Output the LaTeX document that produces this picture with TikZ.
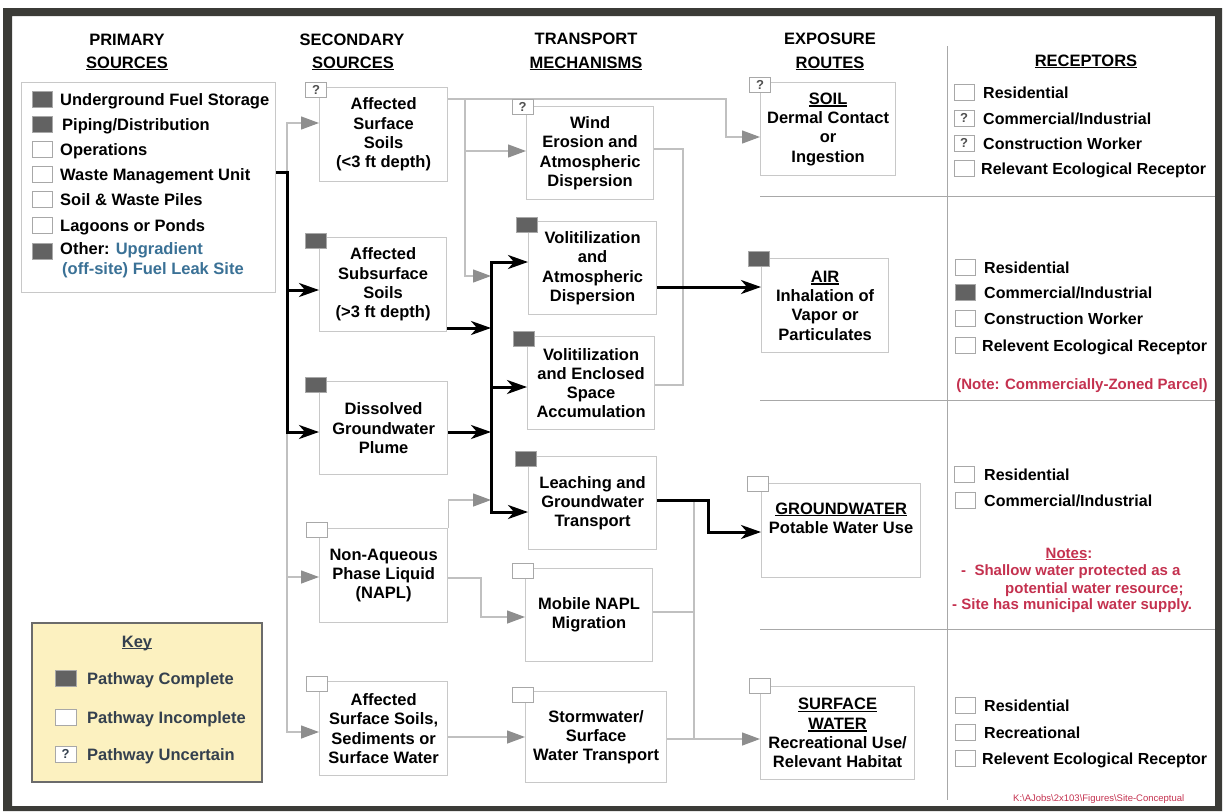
\documentclass[tikz,border=0pt]{standalone}
\usepackage{fontspec}
\setmainfont{Liberation Sans}
\usetikzlibrary{arrows.meta}
\definecolor{framec}{HTML}{3B3B37}
\definecolor{boxc}{HTML}{C8C8C8}
\definecolor{tagc}{HTML}{A8A8A8}
\definecolor{dfill}{HTML}{626262}
\definecolor{lgray}{HTML}{C0C0C0}
\definecolor{agray}{HTML}{8E8E8E}
\definecolor{sepc}{HTML}{A8A8A8}
\definecolor{bluec}{HTML}{3A7196}
\definecolor{redc}{HTML}{C4314F}
\definecolor{keyfill}{HTML}{FCF1C0}
\definecolor{keyborder}{HTML}{6B6B6B}
\definecolor{keytext}{HTML}{34404E}
\definecolor{qc}{HTML}{505050}
\newsavebox{\myulbox}
\newcommand\myul[1]{\sbox{\myulbox}{#1}\rlap{\rule[-2.4pt]{\wd\myulbox}{1.3pt}}\usebox{\myulbox}}
\begin{document}
\begin{tikzpicture}[x=1pt,y=-1pt,
  font=\bfseries\fontsize{16.5}{19.3}\selectfont,
  bx/.style={draw=boxc, line width=1.2pt, fill=white, align=center, inner sep=0pt, anchor=north west},
  tagf/.style={draw=tagc, line width=0.8pt, fill=dfill, minimum width=21pt, minimum height=15pt, inner sep=0pt},
  tage/.style={draw=tagc, line width=0.8pt, fill=white, minimum width=21pt, minimum height=15pt, inner sep=0pt},
  tagq/.style={tage, font=\bfseries\fontsize{13}{13}\selectfont, text=qc},
  sqf/.style={tagf, minimum width=20pt, minimum height=16pt},
  sqe/.style={tage, minimum width=20pt, minimum height=16pt},
  sqq/.style={tagq, minimum width=20pt, minimum height=16pt},
  lbl/.style={anchor=base west, inner sep=0pt},
  rlbl/.style={anchor=base west, inner sep=0pt, font=\bfseries\fontsize{16}{19}\selectfont},
  hd/.style={anchor=base, inner sep=0pt},
  rednote/.style={anchor=base west, inner sep=0pt, text=redc, font=\bfseries\fontsize{15}{17}\selectfont},
  gl/.style={draw=lgray, line width=1.3pt},
  garr/.style={gl, -{Triangle[length=18pt,width=13pt,color=agray]}},
  bl/.style={draw=black, line width=3pt},
  btip/.tip={Stealth[length=20pt,width=14pt,inset=6pt]},
  barr/.style={bl, -btip},
  sep/.style={draw=sepc, line width=1pt}]
\useasboundingbox (0,0) rectangle (1225,811);
\fill[framec, even odd rule] (3,8) rectangle (1222,811) (12,16) rectangle (1215,806);

% separators
\draw[sep] (947,46) -- (947,800);
\draw[sep] (760,196) -- (1215,196);
\draw[sep] (760,400) -- (1215,400);
\draw[sep] (760,629) -- (1215,629);

% headers
\node[hd] (h1a) at (127,45) {PRIMARY};
\node[hd] (h1b) at (127,68) {\myul{SOURCES}};
\node[hd] (h2a) at (352,45) {SECONDARY};
\node[hd] (h2b) at (353,68) {\myul{SOURCES}};
\node[hd] (h3a) at (586,44) {TRANSPORT};
\node[hd] (h3b) at (586,68) {\myul{MECHANISMS}};
\node[hd] (h4a) at (830,44) {EXPOSURE};
\node[hd] (h4b) at (830,68) {\myul{ROUTES}};
\node[hd] (h5) at (1086,66) {\myul{RECEPTORS}};

% primary sources
\node[bx, minimum width=254pt, minimum height=210pt] (prim) at (21,82) {};
\node[sqf] (p1s) at (42,99.5) {}; \node[lbl] (p1) at (60,105) {Underground Fuel Storage};
\node[sqf] (p2s) at (42,124.5) {}; \node[lbl] (p2) at (62,130) {Piping/Distribution};
\node[sqe] (p3s) at (42,149.5) {}; \node[lbl] (p3) at (60,155) {Operations};
\node[sqe] (p4s) at (42,174.5) {}; \node[lbl] (p4) at (60,180) {Waste Management Unit};
\node[sqe] (p5s) at (42,199.5) {}; \node[lbl] (p5) at (60,205) {Soil \& Waste Piles};
\node[sqe] (p6s) at (42,225) {}; \node[lbl] (p6) at (60,231) {Lagoons or Ponds};
\node[sqf] (p7s) at (42,251) {}; \node[lbl] (p7) at (60,254) {Other: \textcolor{bluec}{Upgradient}};
\node[lbl, text=bluec] (p8) at (62,274) {(off-site) Fuel Leak Site};

% key
\node[bx, fill=keyfill, draw=keyborder, line width=1.5pt, minimum width=230pt, minimum height=159pt] (key) at (31,622) {};
\node[hd, text=keytext] (keyt) at (137,647) {\myul{Key}};
\node[sqf, minimum width=21pt] (k1s) at (65.5,678) {}; \node[lbl, text=keytext] (k1) at (87,684) {Pathway Complete};
\node[sqe, minimum width=21pt] (k2s) at (65.5,717) {}; \node[lbl, text=keytext] (k2) at (87,723) {Pathway Incomplete};
\node[sqq, minimum width=21pt, text=keytext] (k3s) at (65.5,754) {?}; \node[lbl, text=keytext] (k3) at (87,760) {Pathway Uncertain};

% secondary sources
\node[bx, minimum width=128pt, minimum height=94pt] (ss1) at (319,87) {Affected\\Surface\\Soils\\(<3 ft depth)};
\node[bx, minimum width=127pt, minimum height=94pt] (ss2) at (319,237) {Affected\\Subsurface\\Soils\\(>3 ft depth)};
\node[bx, minimum width=128pt, minimum height=93pt] (ss3) at (319,381) {Dissolved\\Groundwater\\Plume};
\node[bx, minimum width=128pt, minimum height=94pt] (ss4) at (319,528) {Non-Aqueous\\Phase Liquid\\(NAPL)};
\node[bx, minimum width=128pt, minimum height=94pt] (ss5) at (319,681) {Affected\\Surface Soils,\\Sediments or\\Surface Water};

% transport mechanisms
\node[bx, minimum width=127pt, minimum height=93pt] (tm1) at (526,106) {Wind\\Erosion and\\Atmospheric\\Dispersion};
\node[bx, minimum width=128pt, minimum height=93pt] (tm2) at (528,221) {Volitilization\\and\\Atmospheric\\Dispersion};
\node[bx, minimum width=127pt, minimum height=93pt] (tm3) at (527,336) {Volitilization\\and Enclosed\\Space\\Accumulation};
\node[bx, minimum width=128pt, minimum height=93pt] (tm4) at (528,456) {Leaching and\\Groundwater\\Transport};
\node[bx, minimum width=127pt, minimum height=93pt] (tm5) at (525,568) {Mobile NAPL\\Migration};
\node[bx, minimum width=141pt, minimum height=91pt] (tm6) at (525,691) {Stormwater/\\Surface\\Water Transport};

% exposure routes
\node[bx, minimum width=135pt, minimum height=93pt] (ex1) at (760,82) {\myul{SOIL}\\Dermal Contact\\or\\Ingestion};
\node[bx, minimum width=127pt, minimum height=94pt] (ex2) at (761,258) {\myul{AIR}\\Inhalation of\\Vapor or\\Particulates};
\node[bx, minimum width=159pt, minimum height=94pt] (ex3) at (761,483) {\myul{GROUNDWATER}\\Potable Water Use\\[6pt]};
\node[bx, minimum width=154pt, minimum height=93pt] (ex4) at (760,686) {\myul{SURFACE}\\\myul{WATER}\\Recreational Use/\\Relevant Habitat};

% junction coordinates
\coordinate (pj) at (287,172);
\coordinate (s1) at (465,99);
\coordinate (m1) at (491,276);
\coordinate (m2) at (491,328);
\coordinate (m3) at (491,432);
\coordinate (m4) at (491,500);
\coordinate (v1) at (491,262);
\coordinate (v3) at (491,387);
\coordinate (v4) at (491,512);
\coordinate (w1) at (683,149);
\coordinate (w2) at (683,385);
\coordinate (g1) at (694,500);
\coordinate (g2) at (694,739);
\coordinate (b1) at (708,500);
\coordinate (b2) at (708,532);

% gray connectors
\draw[garr] (pj) |- (ss1.west |- 0,123);
\draw[garr] (pj) |- (ss4.west |- 0,577);
\draw[garr] (pj) |- (ss5.west |- 0,732);
\draw[garr] (ss1.east |- s1) -- (726,99) |- (ex1.west |- 0,137);
\draw[garr] (s1) |- (tm1.west |- 0,151);
\draw[garr] (s1) |- (m1);
\draw[garr] (ss4.north east) |- (m4);
\draw[garr] (ss4.east |- 0,578) -- (481,578) |- (tm5.west |- 0,617);
\draw[garr] (ss5.east |- 0,737) -- (tm6.west |- 0,737);
\draw[gl] (tm1.east |- w1) -- (w1) -- (w2) -- (tm3.east |- w2);
\draw[gl] (g1) -- (g2);
\draw[gl] (tm5.east |- 0,612) -- (g1 |- 0,612);
\draw[garr] (tm6.east |- g2) -- (ex4.west |- g2);

% black connectors
\draw[barr] (prim.east |- pj) -- (pj) |- (ss3.west |- 0,432);
\draw[barr] (pj |- 0,290) -- (ss2.west |- 0,290);
\draw[barr] (ss2.east |- m2) -- (m2);
\draw[barr] (ss3.east |- m3) -- (m3);
\draw[bl, btip-btip] (tm2.west |- v1) -- (v1) -- (v4) -- (tm4.west |- v4);
\draw[barr] (v3) -- (tm3.west |- v3);
\draw[barr] (tm2.east |- 0,287) -- (ex2.west |- 0,287);
\draw[barr] (tm4.east |- b1) -- (b1) -- (b2) -- (ex3.west |- b2);

% tags
\node[tagq] (t11) at (316,90) {?};
\node[tagf] (t12) at (316,240.5) {};
\node[tagf] (t13) at (316,384.5) {};
\node[tage] (t14) at (316.5,530) {};
\node[tage] (t15) at (316.5,684) {};
\node[tagq] (t21) at (522.5,107) {?};
\node[tagf] (t22) at (526.5,225) {};
\node[tagf] (t23) at (524,339) {};
\node[tagf] (t24) at (526,459) {};
\node[tage] (t25) at (522.5,571) {};
\node[tage] (t26) at (522.5,695) {};
\node[tagq] (t31) at (760,84.5) {?};
\node[tagf] (t32) at (758.5,258.5) {};
\node[tage] (t33) at (758,483.5) {};
\node[tage] (t34) at (760,686) {};

% receptors: soil
\node[sqe] (r11s) at (964,92) {}; \node[rlbl] (r11) at (983,98) {Residential};
\node[sqq] (r12s) at (964,118) {?}; \node[rlbl] (r12) at (983,124) {Commercial/Industrial};
\node[sqq] (r13s) at (964,143) {?}; \node[rlbl] (r13) at (983,149) {Construction Worker};
\node[sqe] (r14s) at (964,168) {}; \node[rlbl] (r14) at (981,174) {Relevant Ecological Receptor};
% receptors: air
\node[sqe] (r21s) at (965,267) {}; \node[rlbl] (r21) at (984,273) {Residential};
\node[sqf] (r22s) at (965,292) {}; \node[rlbl] (r22) at (984,298) {Commercial/Industrial};
\node[sqe] (r23s) at (965,318) {}; \node[rlbl] (r23) at (984,324) {Construction Worker};
\node[sqe] (r24s) at (965,345) {}; \node[rlbl] (r24) at (982,351) {Relevent Ecological Receptor};
\node[rednote, anchor=base] (r2n) at (1082,389) {(Note: Commercially-Zoned Parcel)};
% receptors: groundwater
\node[sqe] (r31s) at (964,474) {}; \node[rlbl] (r31) at (984,480) {Residential};
\node[sqe] (r32s) at (965,500) {}; \node[rlbl] (r32) at (984,506) {Commercial/Industrial};
\node[rednote, anchor=base] (r3n) at (1069,558) {\myul{Notes}:};
\node[rednote] (r3a) at (961,575) {-\ \ Shallow water protected as a};
\node[rednote] (r3b) at (1005,593) {potential water resource;};
\node[rednote] (r3c) at (952,609) {- Site has municipal water supply.};
% receptors: surface water
\node[sqe] (r41s) at (965,705) {}; \node[rlbl] (r41) at (984,711) {Residential};
\node[sqe] (r42s) at (965,732) {}; \node[rlbl] (r42) at (984,738) {Recreational};
\node[sqe] (r43s) at (965,758) {}; \node[rlbl] (r43) at (982,764) {Relevent Ecological Receptor};

\node[anchor=base west, inner sep=0pt, text=redc, font=\mdseries\fontsize{9.5}{10}\selectfont] (path) at (1013,801) {K:\textbackslash AJobs\textbackslash 2x103\textbackslash Figures\textbackslash Site-Conceptual};
\end{tikzpicture}
\end{document}
